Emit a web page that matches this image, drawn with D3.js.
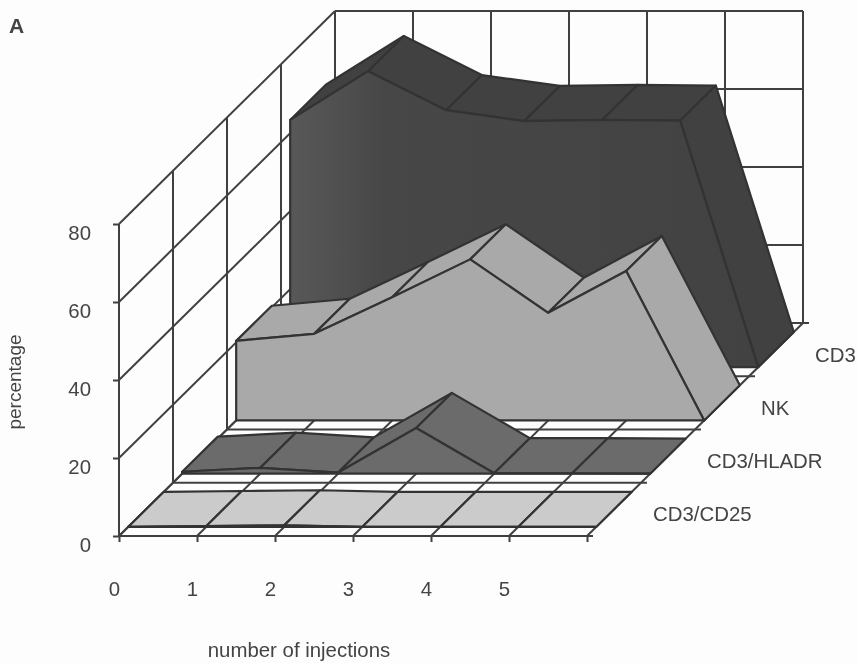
<!DOCTYPE html>
<html>
<head>
<meta charset="utf-8">
<script src="https://cdn.jsdelivr.net/npm/d3@7"></script>
<style>
  body { margin: 0; background: #fdfdfd; }
  svg { display: block; filter: blur(0.4px); }
  text { font-family: "Liberation Sans", Arial, sans-serif; fill: #444; }
</style>
</head>
<body>
<svg width="858" height="663"></svg>
<script>
var injections = ["0", "1", "2", "3", "4", "5", ""];
var yTicks = [0, 20, 40, 60, 80];
var seriesNames = ["CD3/CD25", "CD3/HLADR", "NK", "CD3"];

var cd25 = [0, 0.2, 0.4, 0, 0, 0, 0];
var hladr = [0.5, 1.5, 0.3, 11.7, 0.1, 0.1, 0];
var nk = [20.4, 22.2, 31.6, 41.3, 27.6, 38.3, 0];
var cd3 = [63.4, 75.9, 65.9, 63.1, 63.4, 63.2, 0];

var fills = ["#cbcbcb", "#6b6b6b", "#a9a9a9", "#414141"];

var lineColor = "#333333";
var labelSize = 20.4;
var svg = d3.select("svg");

var x = d3.scaleLinear().domain([0, 6]).range([119, 587]);
var y = d3.scaleLinear().domain([0, 80]).range([536, 224]);
// depth runs up and to the right, one unit per series
var depthX = d3.scaleLinear().domain([0, 4]).range([0, 216]);
var depthY = d3.scaleLinear().domain([0, 4]).range([0, -213]);

function project(i, v, d) {
    return [x(i) + depthX(d), y(v) + depthY(d)];
}

var path = d3.line().curve(d3.curveLinearClosed);

function gridLine(a, b) {
    svg.append("line")
        .attr("x1", a[0]).attr("y1", a[1])
        .attr("x2", b[0]).attr("y2", b[1])
        .attr("stroke", "#404040")
        .attr("stroke-width", 2);
}

var defs = svg.append("defs");
var grad = defs.append("linearGradient").attr("id", "cd3shade");
grad.append("stop").attr("offset", "0").attr("stop-color", "#585858");
grad.append("stop").attr("offset", "0.1").attr("stop-color", "#505050");
grad.append("stop").attr("offset", "0.2").attr("stop-color", "#474747");
grad.append("stop").attr("offset", "1").attr("stop-color", "#424242");

// walls and floor
yTicks.forEach(function(t) {
    gridLine(project(0, t, 0), project(0, t, 4));
    gridLine(project(0, t, 4), project(6, t, 4));
});
d3.range(0, 7).forEach(function(i) {
    gridLine(project(i, 0, 4), project(i, 80, 4));
    gridLine(project(i, 0, 0), project(i, 0, 4));
});
d3.range(0, 5).forEach(function(d) {
    gridLine(project(0, 0, d), project(0, 80, d));
    gridLine(project(0, 0, d), project(6, 0, d));
    // small tick on the depth axis
    var end = project(6, 0, d);
    gridLine(end, [end[0] + 6, end[1]]);
});

// ribbons, back to front
var front = 0.17;
var back = 0.83;
var allSeries = [cd25, hladr, nk, cd3];

d3.range(3, -1, -1).forEach(function(s) {
    var vals = allSeries[s];
    var g = svg.append("g")
        .attr("class", "series")
        .attr("stroke", lineColor)
        .attr("stroke-width", 2.2)
        .attr("stroke-linejoin", "round");

    var tops = d3.range(0, 6).map(function(i) {
        return [
            project(i, vals[i], s + front),
            project(i + 1, vals[i + 1], s + front),
            project(i + 1, vals[i + 1], s + back),
            project(i, vals[i], s + back)
        ];
    });

    g.selectAll(".top")
        .data(tops)
        .enter().append("path")
        .attr("class", "top")
        .attr("d", path)
        .attr("fill", fills[s]);

    var face = vals.map(function(v, i) { return project(i, v, s + front); });
    face.push(project(6, 0, s + front));
    face.push(project(0, 0, s + front));

    g.append("path")
        .attr("class", "front")
        .attr("d", path(face))
        .attr("fill", s === 3 ? "url(#cd3shade)" : fills[s]);
});

// axes
var yAxis = d3.axisLeft(y).tickValues(yTicks).tickSize(6).tickPadding(22);
var gy = svg.append("g").attr("transform", "translate(" + x(0) + ",0)").call(yAxis);

var xAxis = d3.axisBottom(x)
    .tickValues(d3.range(0, 7))
    .tickFormat(function(i) { return injections[i]; })
    .tickSize(6)
    .tickPadding(40);
var gx = svg.append("g").attr("transform", "translate(0," + y(0) + ")").call(xAxis);

[gy, gx].forEach(function(ax) {
    ax.select(".domain").remove();
    ax.selectAll("line").attr("stroke", "#404040").attr("stroke-width", 2);
    ax.selectAll("text").attr("font-size", labelSize).style("fill", "#444");
    ax.attr("font-size", null).attr("font-family", null);
});
gy.selectAll("text").attr("dy", 15.5);
gx.selectAll("text").attr("x", -5);

// series names at the right edge of the floor
svg.selectAll(".series-name")
    .data(seriesNames)
    .enter().append("text")
    .attr("class", "series-name")
    .attr("x", function(d, i) { return project(6, 0, i + 0.5)[0] + 39; })
    .attr("y", function(d, i) { return project(6, 0, i + 0.5)[1] + 12; })
    .attr("font-size", labelSize)
    .text(function(d) { return d; });

svg.append("text")
    .attr("x", 299).attr("y", 657)
    .attr("text-anchor", "middle")
    .attr("font-size", labelSize)
    .text("number of injections");

svg.append("text")
    .attr("transform", "translate(21,382) rotate(-90)")
    .attr("text-anchor", "middle")
    .attr("font-size", 19)
    .text("percentage");

svg.append("text")
    .attr("x", 9).attr("y", 33)
    .attr("font-size", 21)
    .attr("font-weight", "bold")
    .text("A");
</script>
</body>
</html>
